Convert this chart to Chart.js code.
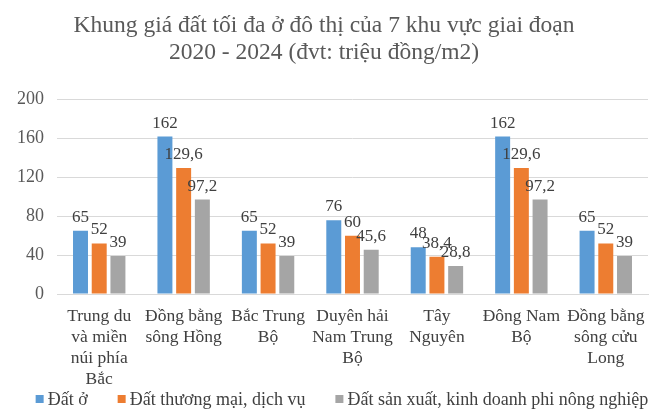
<!DOCTYPE html>
<html>
<head>
<meta charset="utf-8">
<script src="https://cdn.jsdelivr.net/npm/chart.js@4/dist/chart.umd.min.js"></script>
<style>
  body { margin: 0; background: #fff; }
  canvas { display: block; }
</style>
</head>
<body>
<canvas id="landChart" width="650" height="419"></canvas>
<script>
// Regions (multi-line labels as in the picture)
const regions = [
    ['Trung du', 'và miền', 'núi phía', 'Bắc'],
    ['Đồng bằng', 'sông Hồng'],
    ['Bắc Trung', 'Bộ'],
    ['Duyên hải', 'Nam Trung', 'Bộ'],
    ['Tây', 'Nguyên'],
    ['Đông Nam', 'Bộ'],
    ['Đồng bằng', 'sông cửu', 'Long']
];

// Price ceilings (million VND / m2)
const datO = [65, 162, 65, 76, 48, 162, 65];
const datThuongMai = [52, 129.6, 52, 60, 38.4, 129.6, 52];
const datSanXuat = [39, 97.2, 39, 45.6, 28.8, 97.2, 39];

const seriesNames = ['Đất ở', 'Đất thương mại, dịch vụ', 'Đất sản xuất, kinh doanh phi nông nghiệp'];
const seriesColors = ['#5B9BD5', '#ED7D31', '#A5A5A5'];
const yTicks = [0, 40, 80, 120, 160, 200];

const serif = "'Liberation Serif', 'DejaVu Serif', serif";

// Draw value labels above bars (Vietnamese decimal comma)
const valueLabels = {
    id: 'valueLabels',
    afterDatasetsDraw(chart) {
        const ctx = chart.ctx;
        ctx.save();
        ctx.font = '17px ' + serif;
        ctx.fillStyle = '#404040';
        ctx.textAlign = 'center';
        ctx.textBaseline = 'bottom';
        chart.data.datasets.forEach((ds, i) => {
            chart.getDatasetMeta(i).data.forEach((bar, j) => {
                const text = String(ds.data[j]).replace('.', ',');
                ctx.fillText(text, bar.x, bar.y - 5);
            });
        });
        ctx.restore();
    }
};

// Compact legend row under the x labels (built-in one needs too much height)
const bottomLegend = {
    id: 'bottomLegend',
    afterDraw(chart) {
        const ctx = chart.ctx;
        const box = 8, gap = 4, spacing = 30, y = 399;
        ctx.save();
        ctx.font = '18px ' + serif;
        ctx.textBaseline = 'middle';
        const items = chart.data.datasets.map(ds => ({
            text: ds.label,
            color: ds.backgroundColor,
            w: box + gap + ctx.measureText(ds.label).width
        }));
        const total = items.reduce((s, it) => s + it.w, 0) + spacing * (items.length - 1);
        let x = 342 - total / 2;
        items.forEach(it => {
            ctx.fillStyle = it.color;
            ctx.fillRect(x, y - box / 2, box, box);
            ctx.fillStyle = '#404040';
            ctx.fillText(it.text, x + box + gap, y + 1);
            x += it.w + spacing;
        });
        ctx.restore();
    }
};

new Chart(document.getElementById('landChart').getContext('2d'), {
    type: 'bar',
    data: {
        labels: regions,
        datasets: seriesNames.map((name, i) => ({
            label: name,
            data: [datO, datThuongMai, datSanXuat][i],
            backgroundColor: seriesColors[i]
        }))
    },
    options: {
        responsive: false,
        animation: false,
        datasets: {
            bar: { categoryPercentage: 0.665, barPercentage: 0.8 }
        },
        layout: { padding: { left: 0, right: 2, top: 6, bottom: 29 } },
        plugins: {
            title: {
                display: true,
                text: ['Khung giá đất tối đa ở đô thị của 7 khu vực giai đoạn', '2020 - 2024 (đvt: triệu đồng/m2)'],
                color: '#595959',
                font: { family: serif, size: 23.5, weight: 'normal', lineHeight: 1.12 },
                padding: { top: 7, bottom: 34 }
            },
            legend: { display: false },
            tooltip: { enabled: false }
        },
        scales: {
            x: {
                grid: { display: false },
                border: { color: '#d9d9d9' },
                afterFit(axis) { axis.height = 96; },
                ticks: {
                    color: '#404040',
                    font: { family: serif, size: 17.5, lineHeight: 1.2 },
                    maxRotation: 0,
                    autoSkip: false,
                    padding: 4
                }
            },
            y: {
                min: 0,
                max: 200,
                afterBuildTicks(axis) {
                    axis.ticks = yTicks.map(v => ({ value: v }));
                },
                afterFit(axis) { axis.width = 57; },
                grid: { color: '#d9d9d9', drawTicks: false },
                border: { display: false },
                ticks: {
                    color: '#595959',
                    font: { family: serif, size: 18 },
                    padding: 13
                }
            }
        }
    },
    plugins: [valueLabels, bottomLegend]
});
</script>
</body>
</html>
